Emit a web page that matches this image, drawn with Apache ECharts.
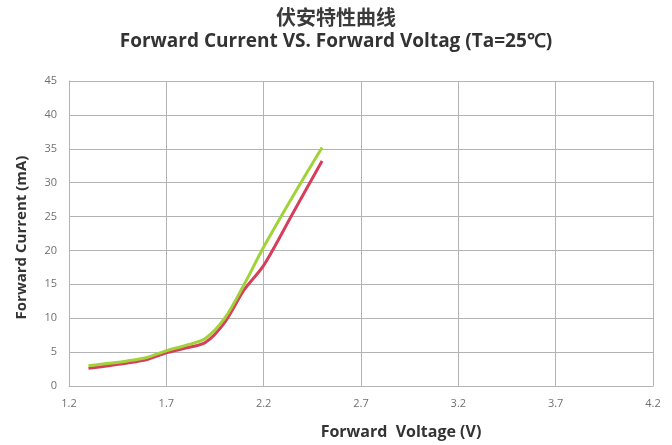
<!DOCTYPE html>
<html>
<head>
<meta charset="utf-8">
<script src="https://cdn.jsdelivr.net/npm/echarts@6/dist/echarts.min.js"></script>
<style>
html,body{margin:0;padding:0;background:#fff;}
#chart{width:672px;height:445px;}
</style>
</head>
<body>
<div id="chart"></div>
<script>
var titleCn = '伏安特性曲线';
var titleEn = 'Forward Current VS. Forward Voltag (Ta=25℃)';
var xName = 'Forward  Voltage (V)';
var yName = 'Forward Current (mA)';
var xTicks = [1.2, 1.7, 2.2, 2.7, 3.2, 3.7, 4.2];
var yTicks = [0, 5, 10, 15, 20, 25, 30, 35, 40, 45];
var greenSeries = [[1.3,3.0],[1.5,3.7],[1.6,4.2],[1.7,5.2],[1.8,6.0],[1.9,7.0],[2.0,10.0],[2.1,15.0],[2.2,20.5],[2.35,28.0],[2.5,35.2]];
var redSeries = [[1.3,2.6],[1.5,3.4],[1.6,3.9],[1.7,4.9],[1.8,5.6],[1.9,6.4],[2.0,9.4],[2.1,14.2],[2.2,17.8],[2.35,25.5],[2.5,33.2]];

var chart = echarts.init(document.getElementById('chart'));
var gridColor = '#b3b3b3';
chart.setOption({
  animation: false,
  backgroundColor: '#ffffff',
  title: [
    {text: titleCn, left: 'center', top: 2, textStyle: {fontFamily: 'Noto Sans CJK SC', fontSize: 20, fontWeight: 'bold', color: '#3a3a3a'}},
    {text: titleEn, left: 'center', top: 27, textStyle: {fontFamily: 'Open Sans', fontSize: 19, fontWeight: 'bold', color: '#333'}}
  ],
  grid: {left: 69, right: 19, top: 81, bottom: 59, containLabel: false},
  xAxis: {
    type: 'value',
    min: xTicks[0], max: xTicks[xTicks.length - 1], interval: 0.5,
    name: xName, nameLocation: 'middle', nameGap: 38,
    nameTextStyle: {fontFamily: 'Open Sans', fontSize: 16, fontWeight: 'bold', color: '#333', padding: [0, 0, 0, 80]},
    axisLine: {lineStyle: {color: gridColor}},
    axisTick: {show: false},
    axisLabel: {color: '#707070', fontFamily: 'Open Sans', fontSize: 11, margin: 12, formatter: function (v) { return v.toFixed(1); }},
    splitLine: {show: true, lineStyle: {color: gridColor, width: 1}}
  },
  yAxis: {
    type: 'value',
    min: yTicks[0], max: yTicks[yTicks.length - 1], interval: 5,
    name: yName, nameLocation: 'middle', nameGap: 40,
    nameTextStyle: {fontFamily: 'Open Sans', fontSize: 15, fontWeight: 'bold', color: '#333', padding: [0, 8, 0, 0]},
    axisLine: {show: true, lineStyle: {color: gridColor}},
    axisTick: {show: false},
    axisLabel: {color: '#707070', fontFamily: 'Open Sans', fontSize: 11, margin: 12},
    splitLine: {show: true, lineStyle: {color: gridColor, width: 1}}
  },
  series: [
    {type: 'line', name: 'red', data: redSeries, smooth: 0.3, showSymbol: false, lineStyle: {color: '#d63e5c', width: 3}},
    {type: 'line', name: 'green', data: greenSeries, smooth: 0.3, showSymbol: false, lineStyle: {color: '#a2d23a', width: 3}}
  ]
});
</script>
</body>
</html>
